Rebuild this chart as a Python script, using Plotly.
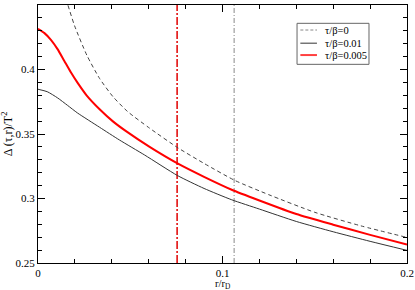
import plotly.graph_objects as go

# tau/beta = 0.005 (red)
r_t005 = [0.0, 0.0035, 0.007, 0.0106, 0.0142, 0.0178, 0.0214, 0.0262, 0.0334, 0.0406, 0.0479,
          0.0605, 0.0756, 0.09, 0.105, 0.12, 0.14, 0.16, 0.18, 0.2]
delta_t005 = [0.4315, 0.4282, 0.4230, 0.4158, 0.4068, 0.3978, 0.3898, 0.3802, 0.3692, 0.3598, 0.3520,
              0.3400, 0.3272, 0.3168, 0.3068, 0.2985, 0.2880, 0.2797, 0.2718, 0.2643]

# tau/beta = 0.01 (black)
r_t01 = [0.0, 0.005, 0.0106, 0.016, 0.0214, 0.0334, 0.0442, 0.0578, 0.0756, 0.09, 0.105,
         0.12, 0.14, 0.16, 0.18, 0.2]
delta_t01 = [0.3847, 0.3828, 0.3780, 0.3722, 0.3663, 0.3552, 0.3453, 0.3337, 0.3178, 0.3078, 0.2990,
             0.2918, 0.2822, 0.2742, 0.2668, 0.2598]

# tau/beta = 0 (dashed)
r_t0 = [0.014, 0.0162, 0.0198, 0.0265, 0.0334, 0.0406, 0.0485, 0.0605, 0.0756, 0.09, 0.1067,
        0.125, 0.15, 0.175, 0.2]
delta_t0 = [0.4600, 0.4500, 0.4340, 0.4110, 0.3930, 0.3790, 0.3675, 0.3545, 0.3395, 0.3272, 0.3140,
            0.3030, 0.2893, 0.2788, 0.2698]

vlines_r = [0.0754, 0.1063]

x_ticks = [0, 0.1, 0.2]
x_labels = ["0", "0.1", "0.2"]
y_ticks = [0.25, 0.3, 0.35, 0.4, 0.45]
y_labels = ["0.25", "0.3", "0.35", "0.4", "0.45"]

legend_names = ["τ/β=0", "τ/β=0.01", "τ/β=0.005"]
x_title = "r/r<sub>D</sub>"
y_title = "Δ (τ,r)/T<sup>2</sup>"

FONT = "Liberation Serif"

fig = go.Figure()
fig.add_trace(go.Scatter(x=[vlines_r[0]] * 2, y=[0.25, 0.45], mode="lines",
                         line=dict(color="#e00000", width=1.5, dash="8px,2px,2px,2px"),
                         showlegend=False, hoverinfo="skip"))
fig.add_trace(go.Scatter(x=[vlines_r[1]] * 2, y=[0.25, 0.45], mode="lines",
                         line=dict(color="#888888", width=1, dash="5px,2px,1px,2px"),
                         showlegend=False, hoverinfo="skip"))
fig.add_trace(go.Scatter(x=r_t0, y=delta_t0, mode="lines", name=legend_names[0],
                         line=dict(color="#444444", width=1, dash="4px,3px", shape="spline", smoothing=0.6),
                         showlegend=False))
fig.add_trace(go.Scatter(x=r_t01, y=delta_t01, mode="lines", name=legend_names[1],
                         line=dict(color="#333333", width=1, shape="spline", smoothing=0.6), showlegend=False))
fig.add_trace(go.Scatter(x=r_t005, y=delta_t005, mode="lines", name=legend_names[2],
                         line=dict(color="#ff0000", width=2, shape="spline", smoothing=0.6), showlegend=False))

axis_common = dict(showline=True, linecolor="black", linewidth=1, mirror="allticks",
                   ticks="inside", ticklen=7, tickcolor="black", showgrid=False, zeroline=False,
                   automargin=False,
                   tickfont=dict(family=FONT, size=11, color="black"))

fig.update_xaxes(range=[0, 0.2], tickvals=x_ticks, ticktext=x_labels,
                 minor=dict(dtick=0.02, ticks="inside", ticklen=4, tickcolor="black", showgrid=False),
                 **axis_common)
fig.update_yaxes(range=[0.25, 0.45], tickvals=y_ticks, ticktext=y_labels,
                 minor=dict(dtick=0.01, ticks="inside", ticklen=4, tickcolor="black", showgrid=False),
                 title=dict(text=y_title, font=dict(family=FONT, size=12, color="black"), standoff=4),
                 **axis_common)

# custom legend box (paper coordinates)
shapes = [dict(type="rect", xref="paper", yref="paper", x0=0.702, x1=0.897, y0=0.770, y1=0.929,
               line=dict(color="#666666", width=1), fillcolor="white", layer="above")]
rows_y = [0.903, 0.852, 0.806]
styles = [dict(color="#888888", width=1, dash="3px,2px"),
          dict(color="#333333", width=1),
          dict(color="#ff4040", width=2)]
annotations = [dict(xref="paper", yref="paper", x=0.5, y=-0.083, text=x_title, showarrow=False,
                    xanchor="center", yanchor="middle",
                    font=dict(family=FONT, size=10.5, color="black"))]
for name, yy, st in zip(legend_names, rows_y, styles):
    shapes.append(dict(type="line", xref="paper", yref="paper", x0=0.711, x1=0.756, y0=yy, y1=yy,
                       line=st, layer="above"))
    annotations.append(dict(xref="paper", yref="paper", x=0.772, y=yy, text=name, showarrow=False,
                            xanchor="left", yanchor="middle",
                            font=dict(family=FONT, size=10.5, color="black")))

fig.update_layout(
    width=415, height=290,
    margin=dict(l=38, r=8, t=5, b=27),
    paper_bgcolor="white", plot_bgcolor="white",
    showlegend=False,
    shapes=shapes, annotations=annotations,
)

fig.write_html("out.html", config={"displayModeBar": False},
               post_script="document.body.style.margin='0';document.body.style.overflow='hidden';")
